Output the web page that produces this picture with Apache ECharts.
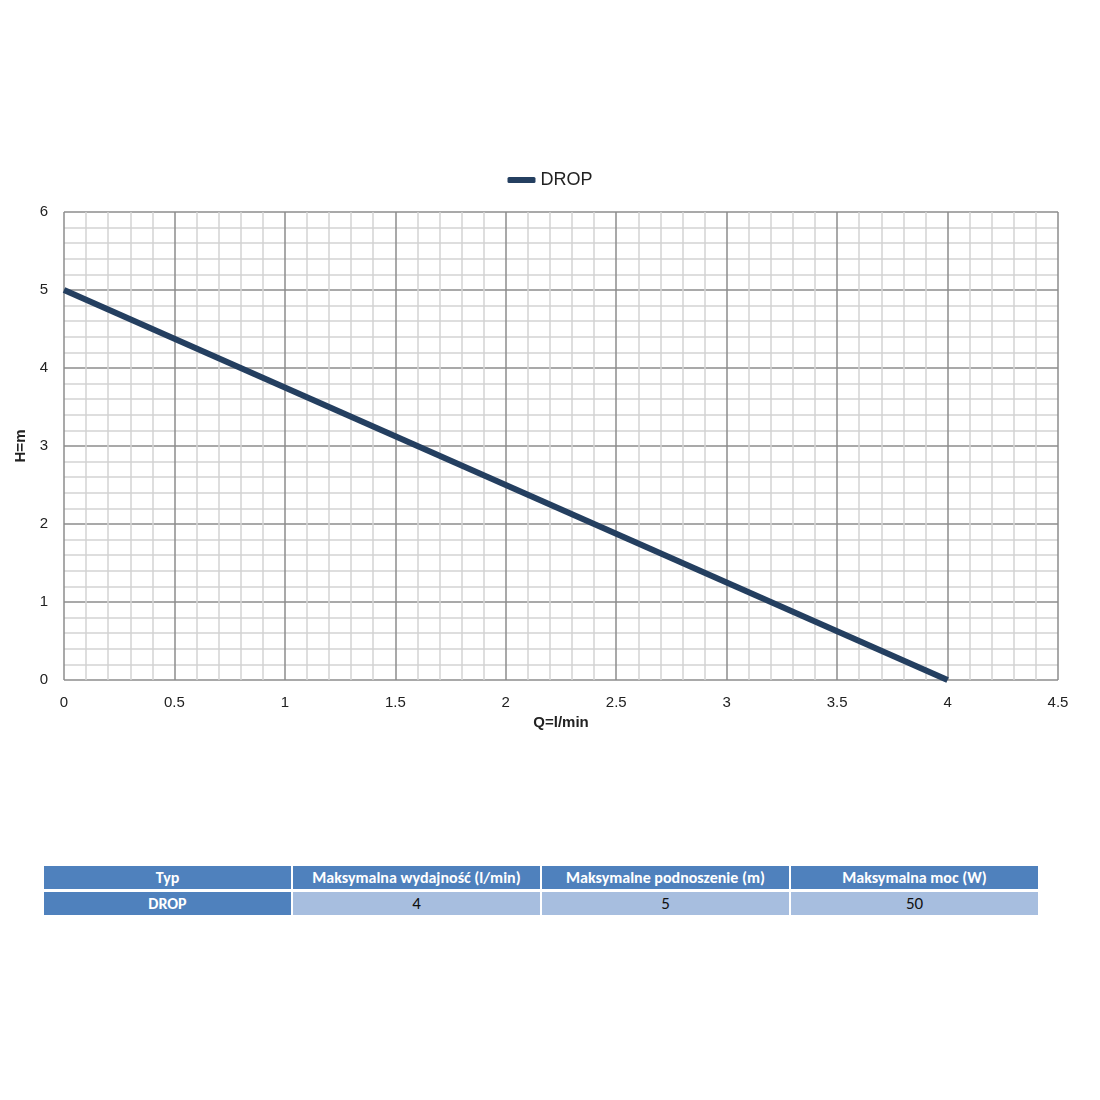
<!DOCTYPE html>
<html>
<head>
<meta charset="utf-8">
<script src="https://cdn.jsdelivr.net/npm/echarts@6/dist/echarts.min.js"></script>
<style>
body{margin:0;background:#fff;font-family:Calibri,"Liberation Sans","Open Sans",sans-serif;}
#chart{position:absolute;left:0;top:0;width:1100px;height:800px;}
#tbl{position:absolute;left:42px;top:863px;border-collapse:separate;border-spacing:2px 3px;}
#tbl td{width:247px;height:23px;text-align:center;padding:0;font-size:16px;}
#tbl .h{background:#4f81bd;color:#fff;font-weight:bold;}
#tbl .v{background:#a7bedf;color:#111;font-size:17px;}
</style>
</head>
<body>
<div id="chart"></div>
<table id="tbl"></table>
<script>
// dane krzywej
var seriesName = 'DROP';
var flow = [0, 4];      // Q l/min
var head = [5, 0];      // H m
// tabela
var tableHead = ['Typ', 'Maksymalna wydajność (l/min)', 'Maksymalne podnoszenie (m)', 'Maksymalna moc (W)'];
var tableRow = ['DROP', '4', '5', '50'];

var myChart = echarts.init(document.getElementById('chart'));
var option = {
  animation: false,
  legend: {
    top: 166, left: 'center', itemWidth: 28, itemHeight: 6, itemGap: 0,
    icon: 'roundRect',
    textStyle: {fontSize: 18, color: '#222', padding: [0, 0, 0, 0]},
    data: [seriesName]
  },
  grid: {left: 64, right: 42, top: 212, bottom: 120},
  xAxis: {
    type: 'value', min: 0, max: 4.5, interval: 0.5,
    name: 'Q=l/min', nameLocation: 'middle', nameGap: 27,
    nameTextStyle: {fontWeight: 'bold', fontSize: 15, color: '#222'},
    axisLine: {show: false}, axisTick: {show: false},
    axisLabel: {fontSize: 15, color: '#222', margin: 15},
    splitLine: {lineStyle: {color: '#8c8c8c', width: 1.5}},
    minorTick: {show: false, splitNumber: 5},
    minorSplitLine: {show: true, lineStyle: {color: '#d4d4d4', width: 1.5}}
  },
  yAxis: {
    type: 'value', min: 0, max: 6, interval: 1,
    name: 'H=m', nameLocation: 'middle', nameGap: 34, nameRotate: 90,
    nameTextStyle: {fontWeight: 'bold', fontSize: 15, color: '#222'},
    axisLine: {show: false}, axisTick: {show: false},
    axisLabel: {fontSize: 15, color: '#222', margin: 16},
    splitLine: {lineStyle: {color: '#8c8c8c', width: 1.5}},
    minorTick: {show: false, splitNumber: 5},
    minorSplitLine: {show: true, lineStyle: {color: '#d4d4d4', width: 1.5}}
  },
  series: [{
    name: seriesName, type: 'line', showSymbol: false,
    lineStyle: {color: '#243f60', width: 6},
    itemStyle: {color: '#243f60'},
    data: flow.map(function (q, i) { return [q, head[i]]; })
  }]
};
myChart.setOption(option);

var tbl = document.getElementById('tbl');
function addRow(cells, cls0, cls) {
  var tr = document.createElement('tr');
  cells.forEach(function (c, i) {
    var td = document.createElement('td');
    td.className = i === 0 ? cls0 : cls;
    td.textContent = c;
    tr.appendChild(td);
  });
  tbl.appendChild(tr);
}
addRow(tableHead, 'h', 'h');
addRow(tableRow, 'h', 'v');
</script>
</body>
</html>
